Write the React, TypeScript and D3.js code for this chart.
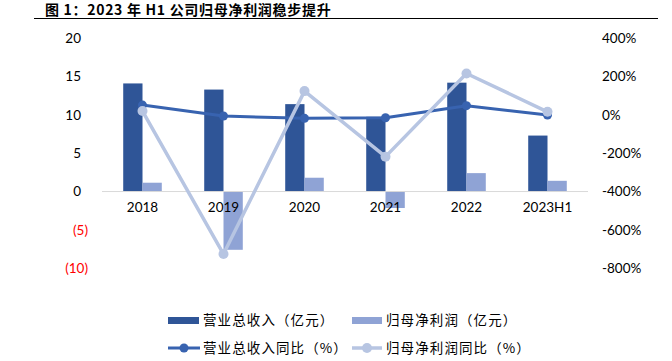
import React from "react";
import * as d3 from "d3";

const categories = ["2018", "2019", "2020", "2021", "2022", "2023H1"];
const revenue = [14.1, 13.3, 11.4, 9.75, 14.2, 7.3];
const netProfit = [1.15, -7.6, 1.8, -2.15, 2.4, 1.4];
const revenueYoY = [51, -6, -18, -15, 48, -1];
const netProfitYoY = [20, -726, 124, -218, 216, 16];
const leftTicks = [20, 15, 10, 5, 0, -5, -10];
const rightTicks = [400, 200, 0, -200, -400, -600, -800];

const C_REV = "#2F5597";
const C_NP = "#8FA3D5";
const C_REVL = "#3863B0";
const C_NPL = "#B7C5E2";
const NUM_FONT = "Lato, 'Noto Sans', sans-serif";
const CJK_FONT = "'Noto Sans CJK SC', 'Noto Sans', sans-serif";

export default function App() {
  const W = 672, H = 361;
  const x0 = 102, x1 = 588;
  const yL = d3.scaleLinear().domain([-10, 20]).range([268.2, 38.2]);
  const yR = d3.scaleLinear().domain([-800, 400]).range([268.2, 38.2]);
  const x = d3.scaleBand<string>().domain(categories).range([x0, x1]).padding(0);
  const xs = d3.scaleBand<string>().domain(["rev", "np"]).range([0, x.bandwidth()]).paddingInner(0).paddingOuter(1.1);
  const cx = (c: string) => (x(c) as number) + x.bandwidth() / 2;
  const line = d3.line<number>().x((_, i) => cx(categories[i])).y((d) => yR(d));

  return (
    <svg width={W} height={H} style={{ position: "absolute", left: 0, top: 0, background: "#fff" }}>
      <text x={45} y={15} fontFamily={CJK_FONT} fontWeight="bold" fontSize={14} letterSpacing={0.7} fill="#000">
        图 1：2023 年 H1 公司归母净利润稳步提升
      </text>
      <line x1={34} x2={658} y1={18.5} y2={18.5} stroke="#000" strokeWidth={1} />

      {leftTicks.map((t) => (
        <text key={"l" + t} x={t < 0 ? 88 : 81} y={yL(t)} dy="0.35em" textAnchor="end"
          fontFamily={NUM_FONT} fontSize={13.5} fill={t < 0 ? "#FF0000" : "#000"}>
          {t < 0 ? `(${-t})` : t}
        </text>
      ))}
      {rightTicks.map((t) => (
        <text key={"r" + t} x={602} y={yR(t)} dy="0.35em" textAnchor="start"
          fontFamily={NUM_FONT} fontSize={13.5} fill="#000">
          {t + "%"}
        </text>
      ))}

      {categories.map((c, i) => (
        <g key={c}>
          <rect x={(x(c) as number) + (xs("rev") as number)} width={xs.bandwidth()}
            y={yL(Math.max(0, revenue[i]))} height={Math.abs(yL(revenue[i]) - yL(0))} fill={C_REV} />
          <rect x={(x(c) as number) + (xs("np") as number)} width={xs.bandwidth()}
            y={yL(Math.max(0, netProfit[i]))} height={Math.abs(yL(netProfit[i]) - yL(0))} fill={C_NP} />
        </g>
      ))}
      <line x1={x0} x2={x1} y1={yL(0)} y2={yL(0)} stroke="#D9D9D9" strokeWidth={1} />

      {categories.map((c) => (
        <text key={"x" + c} x={cx(c)} y={212} textAnchor="middle" fontFamily={NUM_FONT} fontSize={13.5} fill="#000">
          {c}
        </text>
      ))}

      <path d={line(revenueYoY) as string} fill="none" stroke={C_REVL} strokeWidth={3} strokeLinejoin="round" />
      {revenueYoY.map((v, i) => (
        <circle key={"rm" + i} cx={cx(categories[i])} cy={yR(v)} r={4.5} fill={C_REVL} />
      ))}
      <path d={line(netProfitYoY) as string} fill="none" stroke={C_NPL} strokeWidth={3.5} strokeLinejoin="round" />
      {netProfitYoY.map((v, i) => (
        <circle key={"nm" + i} cx={cx(categories[i])} cy={yR(v)} r={5} fill={C_NPL} />
      ))}

      <g fontFamily={CJK_FONT} fontSize={13.5} letterSpacing={1.1} fill="#000">
        <rect x={168} y={317} width={31} height={7} fill={C_REV} />
        <text x={203} y={320.5} dy="0.35em">营业总收入（亿元）</text>
        <rect x={352} y={317} width={30} height={7} fill={C_NP} />
        <text x={386} y={320.5} dy="0.35em">归母净利润（亿元）</text>

        <line x1={168} x2={200} y1={348} y2={348} stroke={C_REVL} strokeWidth={3} />
        <circle cx={184} cy={348} r={4.5} fill={C_REVL} />
        <text x={203} y={348} dy="0.35em">营业总收入同比（%）</text>
        <line x1={352} x2={382} y1={348} y2={348} stroke={C_NPL} strokeWidth={3.5} />
        <circle cx={367} cy={348} r={5} fill={C_NPL} />
        <text x={386} y={348} dy="0.35em">归母净利润同比（%）</text>
      </g>
    </svg>
  );
}
